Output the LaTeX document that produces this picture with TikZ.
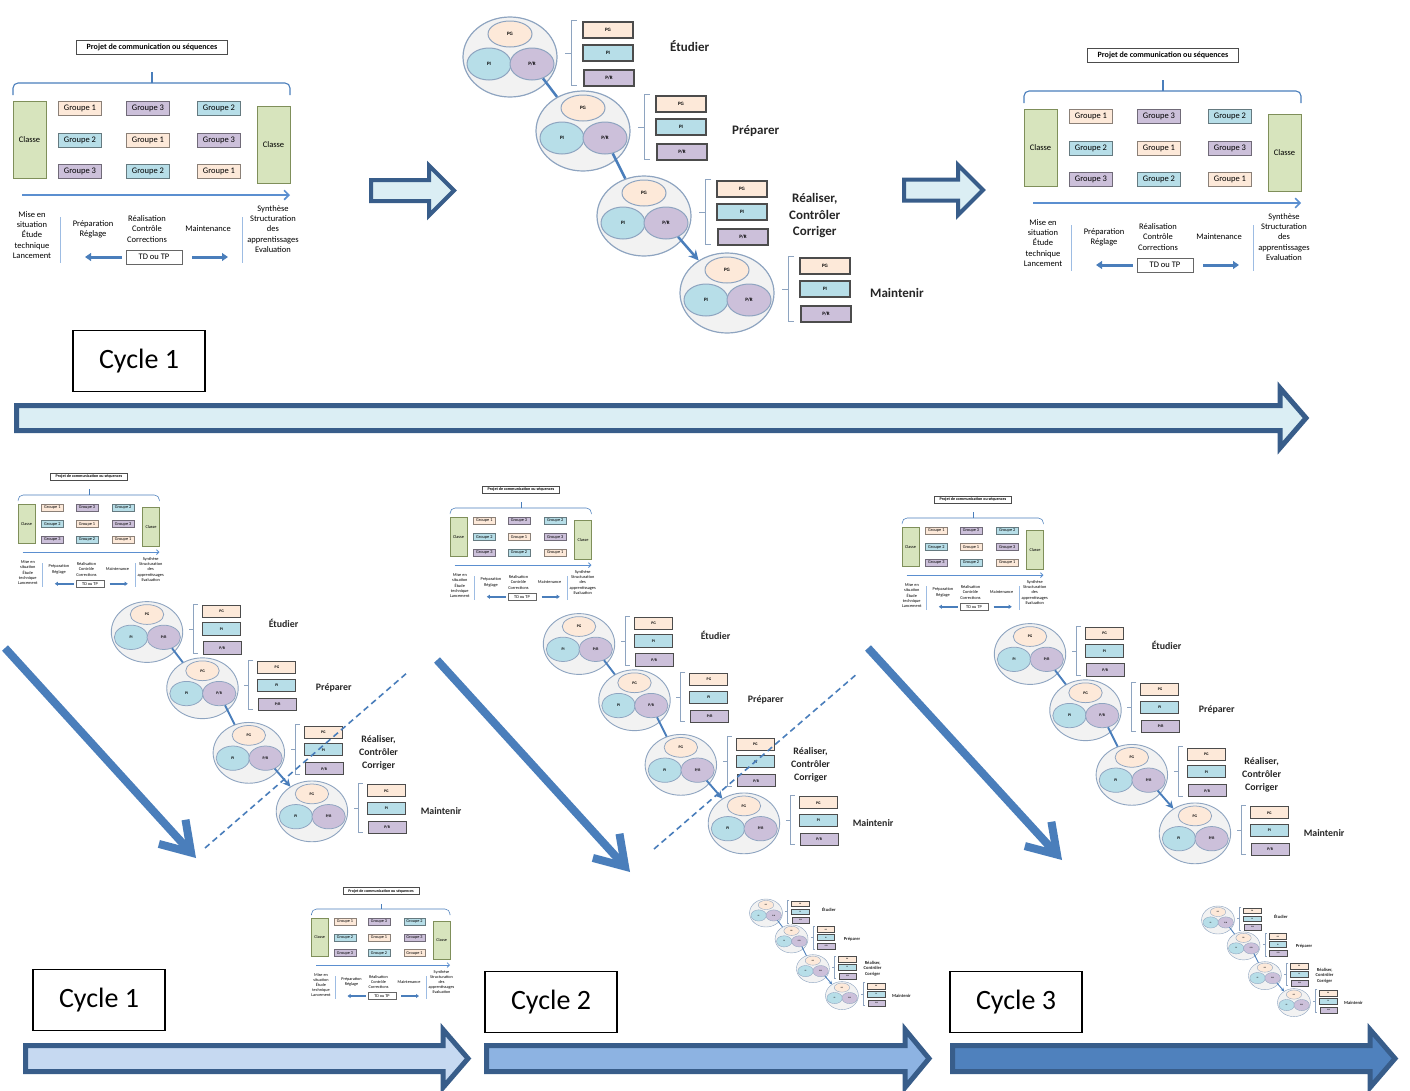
\documentclass[tikz,border=0pt]{standalone}
\usepackage{fontspec}
\setmainfont{Carlito}
\usetikzlibrary{shapes.geometric,arrows.meta}

\definecolor{peche}{HTML}{FDE9D9}
\definecolor{bleuclair}{HTML}{B7DEE8}
\definecolor{mauve}{HTML}{CCC0DA}
\definecolor{vertclasse}{HTML}{D7E4BD}
\definecolor{vertbord}{HTML}{7F8F5A}
\definecolor{bleuoffice}{HTML}{4A7EBB}
\definecolor{bleuaxe}{HTML}{5B8FD0}
\definecolor{bordbleu}{HTML}{385D8A}
\definecolor{flecheA}{HTML}{DBEEF4}
\definecolor{flecheB}{HTML}{C6D9F1}
\definecolor{flecheC}{HTML}{8DB3E2}
\definecolor{flecheD}{HTML}{4F81BD}
\definecolor{grisell}{HTML}{F2F2F2}
\definecolor{bordell}{HTML}{8EA4C0}

\newcommand{\lw}{1}

\tikzset{
  projet/.style={draw=black!70, fill=white, line width=0.8pt*\lw, minimum width=151pt, minimum height=14pt, inner sep=0pt, font=\fontsize{8}{9}\selectfont\bfseries},
  accolade/.style={draw=bleuoffice, line width=1.1pt*\lw, rounded corners=5pt},
  classe/.style={draw=vertbord, fill=vertclasse, line width=1pt*\lw, minimum width=33pt, minimum height=77pt, inner sep=0pt, font=\fontsize{8.5}{10}\selectfont},
  groupe/.style={draw=#1!55!black, fill=#1, line width=0.8pt*\lw, minimum width=43pt, minimum height=14pt, inner sep=0pt, font=\fontsize{8.5}{10}\selectfont},
  axe/.style={draw=bleuaxe, line width=1.6pt*\lw, -{Straight Barb[length=0pt 3, width=0pt 6]}},
  texte/.style={align=center, inner sep=0pt, font=\fontsize{8.5}{10.4}\selectfont},
  separe/.style={draw=bleuaxe!60, line width=0.8pt*\lw},
  tdtp/.style={draw=black!60, fill=white, line width=0.8pt*\lw, minimum width=56pt, minimum height=14pt, inner sep=0pt, font=\fontsize{8.5}{10}\selectfont},
  flechette/.style={draw=bleuoffice, line width=3pt*\lw, -{Triangle[length=0pt 2, width=0pt 2.6]}},
  bigell/.style={ellipse, draw=bordell, fill=grisell, line width=1.2pt*\lw, minimum width=94pt, minimum height=80pt, inner sep=0pt},
  petit/.style={ellipse, draw=bordell, fill=#1, line width=1pt*\lw, minimum width=44pt, minimum height=32pt, inner sep=0pt, font=\fontsize{5}{6}\selectfont\bfseries},
  boite/.style={draw=black!70, fill=#1, line width=1.3pt*\lw, minimum width=50pt, minimum height=16pt, inner sep=0pt, font=\fontsize{5}{6}\selectfont\bfseries},
  crochet/.style={draw=bordell, line width=1pt*\lw},
  lien/.style={draw=bleuoffice, line width=2.5pt*\lw},
  verbe/.style={anchor=west, align=center, inner sep=0pt, text=black!85, font=\fontsize{13}{16.5}\selectfont\bfseries},
  cyclebox/.style={draw=black, fill=white, line width=1.6pt, minimum width=132pt, minimum height=61pt, inner sep=0pt, font=\fontsize{28}{30}\selectfont},
  bloc/.style={draw=bordbleu, line width=#1, line join=miter},
  diag/.style={draw=bleuoffice, line width=8pt, -{Straight Barb[length=28pt, width=36pt]}},
  pointille/.style={draw=bleuoffice, line width=1.6pt, dash pattern=on 6pt off 4pt},
}

% bloc "Projet de communication ou sequences"
\newcommand{\planning}[3]{%
  \begin{scope}[shift={(#2)}, scale=#3, transform shape]
    \def\lw{#3}
    \node[projet] (#1p) at (0,-36) {Projet de communication ou séquences};
    \draw[accolade] (-139,12) -- (-139,0) -- (138,0) -- (138,12);
    \draw[accolade] (0,0) -- (0,-11);
    \node[classe] (#1cg) at (-122.5,56.5) {Classe};
    \node[classe] (#1cd) at (121.5,62) {Classe};
    \foreach \gx/\gy/\gc/\gn [count=\gi] in {-72/25/peche/1, -4/25/mauve/3, 67/25/bleuclair/2,
        -72/57/bleuclair/2, -4/57/peche/1, 67/57/mauve/3,
        -72/88/mauve/3, -4/88/bleuclair/2, 67/88/peche/1}
      \node[groupe=\gc] (#1g\gi) at (\gx,\gy) {Groupe \gn};
    \coordinate (#1a0) at (-130,112);
    \coordinate (#1a1) at (138,112);
    \draw[axe] (#1a0) -- (#1a1);
    \node[texte] (#1t1) at (-120,152) {Mise en\\situation\\Étude\\technique\\Lancement};
    \draw[separe] (-92,134) -- (-92,180);
    \node[texte] (#1t2) at (-59,146) {Préparation\\Réglage};
    \node[texte] (#1t3) at (-5,146) {Réalisation\\Contrôle\\Corrections};
    \node[texte] (#1t4) at (56,146) {Maintenance};
    \draw[separe] (90,134) -- (90,180);
    \node[texte] (#1t5) at (121,146) {Synthèse\\Structuration\\des\\apprentissages\\Evaluation};
    \node[tdtp] (#1td) at (2,174) {TD ou TP};
    \coordinate (#1fg) at (-67,174);
    \coordinate (#1fd) at (76,174);
    \draw[flechette] ([xshift=-4pt]#1td.west) -- (#1fg);
    \draw[flechette] ([xshift=10pt]#1td.east) -- (#1fd);
  \end{scope}}

% un groupe PG / PI / P/R
\newcommand{\grappe}[2]{%
  \begin{scope}[shift={(#2)}]
    \node[bigell] (#1) at (0,0) {};
    \node[petit=peche, minimum height=26pt] (#1g) at (0,-23) {PG};
    \node[petit=bleuclair] (#1i) at (-21,7) {PI};
    \node[petit=mauve] (#1r) at (22,7) {P/R};
    \draw[crochet] (67,-37) -- (61,-37) -- (61,28) -- (67,28) (61,-4) -- (55,-4);
    \node[boite=peche] (#1bg) at (98,-27) {PG};
    \node[boite=bleuclair] (#1bi) at (98,-4) {PI};
    \node[boite=mauve] (#1br) at (99,21) {P/R};
  \end{scope}}

% chaine des quatre etapes
\newcommand{\chaine}[3]{%
  \begin{scope}[shift={(#2)}, scale=#3, transform shape]
    \def\lw{#3}
    \grappe{#1a}{0,0}
    \grappe{#1b}{73,74}
    \grappe{#1c}{134,159}
    \grappe{#1d}{217,236}
    \draw[lien] (#1ar) -- (#1b);
    \draw[lien] (#1br) -- (#1c);
    \draw[lien, -{Stealth[length=0pt 4, width=0pt 4]}] (#1cr) -- (#1d);
    \node[verbe] (#1va) at (160,-11) {Étudier};
    \node[verbe] (#1vb) at (222,74) {Préparer};
    \node[verbe] (#1vc) at (279,159) {Réaliser,\\Contrôler\\Corriger};
    \node[verbe] (#1vd) at (360,236) {Maintenir};
  \end{scope}}

% grosse fleche pleine
\newcommand{\flechebloc}[8]{%
  \filldraw[bloc=#8, fill=#1] (#2,#5-#6) -- (#3,#5-#6) -- (#3,#5-#7) -- (#4,#5)
    -- (#3,#5+#7) -- (#3,#5+#6) -- (#2,#5+#6) -- cycle;}

\begin{document}
\begin{tikzpicture}[x=1pt, y=-1pt]
  \useasboundingbox (0,0) rectangle (1410,1090);

  % ligne du haut
  \planning{pa}{152,83}{1}
  \flechebloc{flecheA}{371}{429}{454}{190.5}{10.5}{25}{4pt}
  \chaine{ca}{510,57}{1}
  \flechebloc{flecheA}{904}{958}{983}{190}{10.5}{25}{4pt}
  \planning{pb}{1163,91}{1}

  \node[cyclebox] (cy0) at (139,361) {Cycle 1};
  \flechebloc{flecheA}{16.5}{1280}{1306}{418}{12.5}{30}{5pt}

  % trois cycles
  \planning{pc}{89,495}{0.51}
  \chaine{cb}{147,632}{0.76}
  \planning{pd}{521,508}{0.51}
  \chaine{cc}{579,644}{0.76}
  \planning{pe}{973,518}{0.51}
  \chaine{cd}{1030,654}{0.76}

  \coordinate (d1a) at (5,648);    \coordinate (d1b) at (196,858);
  \coordinate (d2a) at (437,660);  \coordinate (d2b) at (630,872);
  \coordinate (d3a) at (868,648);  \coordinate (d3b) at (1062,860);
  \draw[diag] (d1a) -- (d1b);
  \draw[diag] (d2a) -- (d2b);
  \draw[diag] (d3a) -- (d3b);

  \coordinate (t1a) at (205,848);  \coordinate (t1b) at (408,672);
  \coordinate (t2a) at (654,849);  \coordinate (t2b) at (858,673);
  \draw[pointille] (t1a) -- (t1b);
  \draw[pointille] (t2a) -- (t2b);

  % ligne du bas
  \planning{pf}{381,909}{0.5}
  \chaine{ce}{766,913}{0.35}
  \chaine{cf}{1218,920}{0.35}

  \node[cyclebox] (cy1) at (99,1000) {Cycle 1};
  \node[cyclebox] (cy2) at (551,1002) {Cycle 2};
  \node[cyclebox] (cy3) at (1016,1002) {Cycle 3};
  \flechebloc{flecheB}{25.5}{443}{468}{1058.5}{13}{29}{5pt}
  \flechebloc{flecheC}{486.5}{905}{929}{1058.5}{13}{29}{5pt}
  \flechebloc{flecheD}{952.5}{1370}{1395}{1058.5}{13}{29}{5pt}
\end{tikzpicture}
\end{document}
